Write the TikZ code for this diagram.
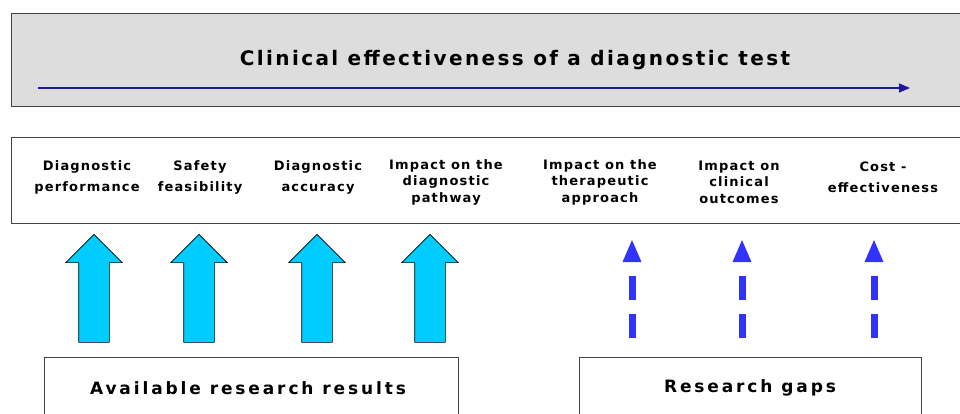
\documentclass[tikz,border=0pt]{standalone}
\usepackage{fontspec}
\setsansfont{DejaVu Sans}
\newfontfamily\stagefont{DejaVu Sans}[LetterSpace=9]
\newfontfamily\basefont{DejaVu Sans}[LetterSpace=17]
\newfontfamily\titlefont{DejaVu Sans}[LetterSpace=12]
\usetikzlibrary{shapes.arrows, arrows.meta, positioning}

\definecolor{panelgray}{HTML}{DDDDDD}
\definecolor{framegray}{HTML}{444444}
\definecolor{timeblue}{HTML}{1A1A99}
\definecolor{resultcyan}{HTML}{00CCFF}
\definecolor{gapblue}{HTML}{3333FF}

\tikzset{
  panel/.style={draw=framegray, line width=1.2pt, anchor=north west, inner sep=0pt},
  stage/.style={font=\stagefont\bfseries\fontsize{13}{21}\selectfont, align=center},
  stage3/.style={font=\stagefont\bfseries\fontsize{13}{16.5}\selectfont, align=center},
  result/.style={single arrow, draw=black, line width=0.6pt, fill=resultcyan,
    rotate=90, minimum height=108pt, inner xsep=0pt, inner ysep=15pt,
    single arrow head extend=13pt},
  gap/.style={draw=gapblue, line width=7pt, dash pattern=on 24pt off 14pt,
    -{Triangle[length=23pt, width=17pt]}},
  basebox/.style={draw=framegray, line width=0.8pt, anchor=north west, inner sep=0pt},
  basetext/.style={font=\basefont\bfseries\fontsize{17}{20}\selectfont}
}

\begin{document}
\begin{tikzpicture}[x=1pt, y=-1pt]
\useasboundingbox (0,0) rectangle (960,414);

% top panel
\node[panel, fill=panelgray, minimum width=960pt, minimum height=93pt] (effect) at (11,13) {};
\node[font=\titlefont\bfseries\fontsize{20}{24}\selectfont] (title) at (515,60)
  {Clinical effectiveness of a diagnostic test};
\coordinate (t0) at (38,88);
\coordinate (t1) at (910,88);
\draw[timeblue, line width=1.2pt, -{Triangle[length=11pt, width=9pt]}] (t0) -- (t1);

% stages
\node[panel, fill=white, minimum width=960pt, minimum height=86pt] (stages) at (11,137) {};
\node[stage]  (perf)  at (87,177)  {Diagnostic\\performance};
\node[stage]  (safe)  at (200,177) {Safety\\feasibility};
\node[stage]  (acc)   at (318,177) {Diagnostic\\accuracy};
\node[stage3] (path)  at (446,182) {Impact on the\\diagnostic\\pathway};
\node[stage3] (ther)  at (600,182) {Impact on the\\therapeutic\\approach};
\node[stage3] (outc)  at (739,182) {Impact on\\clinical\\outcomes};
\node[stage]  (cost)  at (883,177) {Cost -\\effectiveness};

% available results
\node[result] (up1) at (94,296)  {};
\node[result] (up2) at (199,296) {};
\node[result] (up3) at (317,296) {};
\node[result] (up4) at (430,296) {};

% research gaps
\coordinate (g1) at (632,338);
\coordinate (h1) at (632,239);
\coordinate (g2) at (742,338);
\coordinate (h2) at (742,239);
\coordinate (g3) at (874,338);
\coordinate (h3) at (874,239);
\draw[gap] (g1) -- (h1);
\draw[gap] (g2) -- (h2);
\draw[gap] (g3) -- (h3);

\node[basebox, minimum width=414pt, minimum height=70pt] (avail) at (44,357) {};
\node[basetext] (availtext) at (248,388) {Available research results};
\node[basebox, minimum width=342pt, minimum height=70pt] (gaps) at (579,357) {};
\node[basetext] (gapstext) at (750,388) {Research gaps};
\end{tikzpicture}
\end{document}
